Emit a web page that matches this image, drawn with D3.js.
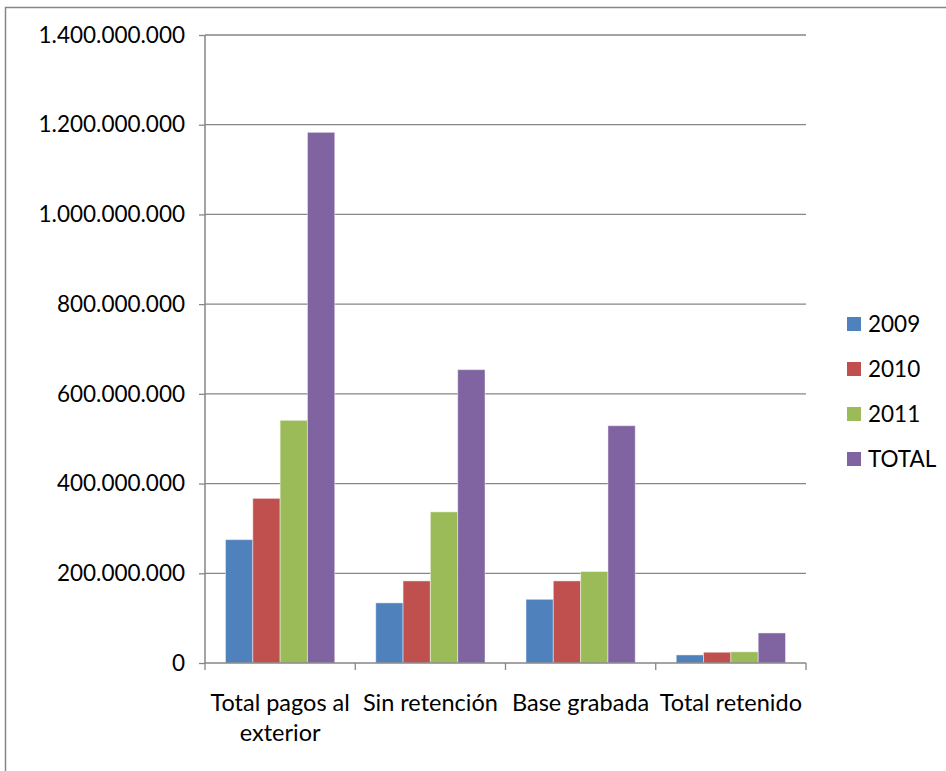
<!DOCTYPE html>
<html>
<head>
<meta charset="utf-8">
<script src="https://cdn.jsdelivr.net/npm/d3@7"></script>
<style>
  html, body { margin: 0; padding: 0; background: #fff; }
  svg { display: block; }
  text { font-family: Lato, "Open Sans", sans-serif; fill: #000; }
</style>
</head>
<body>
<svg id="chart" width="946" height="771"></svg>
<script>
// Categories along the x axis
const categories = ["Total pagos al exterior", "Sin retención", "Base grabada", "Total retenido"];
// Series (one bar per series in each category)
const series = ["2009", "2010", "2011", "TOTAL"];
const seriesColors = ["#4F81BD", "#C0504D", "#9BBB59", "#8064A2"];
// Values per series, in category order
const values2009 = [275000000, 134000000, 142000000, 18000000];
const values2010 = [367000000, 183000000, 183000000, 24000000];
const values2011 = [541000000, 337000000, 204000000, 25000000];
const valuesTotal = [1183000000, 654000000, 529000000, 67000000];
// Y axis ticks
const yTicks = [0, 200000000, 400000000, 600000000, 800000000, 1000000000, 1200000000, 1400000000];

const seriesValues = [values2009, values2010, values2011, valuesTotal];

const svg = d3.select("#chart");
const axisColor = "#868686";

// Outer chart frame
svg.append("rect")
  .attr("x", 5.5).attr("y", 7.5)
  .attr("width", 1000).attr("height", 900)
  .attr("fill", "none")
  .attr("stroke", axisColor)
  .attr("stroke-width", 1.5);

const plot = { left: 205, right: 806, top: 35, bottom: 663 };

const x = d3.scaleBand()
  .domain(categories)
  .range([plot.left, plot.right])
  .paddingInner(0).paddingOuter(0);

const xInner = d3.scaleBand()
  .domain(series)
  .range([0, x.bandwidth()])
  .paddingInner(0)
  .paddingOuter(0.75);

const y = d3.scaleLinear()
  .domain([0, 1400000000])
  .range([plot.bottom, plot.top]);

const fmt = v => d3.format(",")(v).replace(/,/g, ".");

// Horizontal gridlines
svg.append("g")
  .selectAll("line")
  .data(yTicks.filter(d => d > 0))
  .join("line")
  .attr("x1", plot.left).attr("x2", plot.right)
  .attr("y1", d => y(d)).attr("y2", d => y(d))
  .attr("stroke", axisColor)
  .attr("stroke-width", 1.3);

// Bars
const groups = svg.append("g")
  .selectAll("g")
  .data(categories)
  .join("g")
  .attr("transform", d => `translate(${x(d)},0)`);

groups.selectAll("rect")
  .data((c, ci) => series.map((s, si) => ({ s, si, v: seriesValues[si][ci] })))
  .join("rect")
  .attr("x", d => xInner(d.s))
  .attr("width", xInner.bandwidth())
  .attr("y", d => y(d.v))
  .attr("height", d => y(0) - y(d.v))
  .attr("fill", d => seriesColors[d.si])
  .attr("stroke", "rgba(255,255,255,0.45)")
  .attr("stroke-width", 1);

// Y axis
const yAxis = svg.append("g")
  .attr("transform", `translate(${plot.left},0)`)
  .call(d3.axisLeft(y).tickValues(yTicks).tickFormat(fmt).tickSize(6).tickPadding(14));
yAxis.select(".domain").attr("stroke", axisColor).attr("stroke-width", 1.5)
  .attr("d", `M0,${plot.top}V${plot.bottom}`);
yAxis.selectAll(".tick line").attr("stroke", axisColor).attr("stroke-width", 1.3);
yAxis.selectAll(".tick text")
  .style("font-size", "22.5px")
  .style("font-family", "Lato, sans-serif")
  .attr("fill", "#000");

// X axis
const xAxis = svg.append("g")
  .attr("transform", `translate(0,${plot.bottom})`);
xAxis.append("line")
  .attr("x1", plot.left).attr("x2", plot.right)
  .attr("stroke", axisColor).attr("stroke-width", 1.5);
xAxis.selectAll("line.tick")
  .data(d3.range(categories.length + 1))
  .join("line")
  .attr("class", "tick")
  .attr("x1", i => plot.left + i * x.step())
  .attr("x2", i => plot.left + i * x.step())
  .attr("y1", 0).attr("y2", 7)
  .attr("stroke", axisColor).attr("stroke-width", 1.3);

// Category labels, wrapped to the band width
const lineHeight = 30;
categories.forEach(c => {
  const t = xAxis.append("text")
    .attr("text-anchor", "middle")
    .attr("x", x(c) + x.bandwidth() / 2)
    .attr("y", 48)
    .style("font-size", "23.5px");
  const words = c.split(" ");
  let line = [];
  let tspan = t.append("tspan").attr("x", x(c) + x.bandwidth() / 2).attr("dy", 0);
  words.forEach(w => {
    line.push(w);
    tspan.text(line.join(" "));
    if (tspan.node().getComputedTextLength() > x.bandwidth() - 4 && line.length > 1) {
      line.pop();
      tspan.text(line.join(" "));
      line = [w];
      tspan = t.append("tspan").attr("x", x(c) + x.bandwidth() / 2).attr("dy", lineHeight).text(w);
    }
  });
});

// Legend
const legend = svg.append("g").attr("transform", "translate(847,317)");
const li = legend.selectAll("g")
  .data(series)
  .join("g")
  .attr("transform", (d, i) => `translate(0,${i * 45})`);
li.append("rect")
  .attr("width", 14).attr("height", 14)
  .attr("fill", (d, i) => seriesColors[i]);
li.append("text")
  .attr("x", 21).attr("y", 7)
  .attr("dy", "0.35em")
  .style("font-size", "22.5px")
  .text(d => d);
</script>
</body>
</html>
